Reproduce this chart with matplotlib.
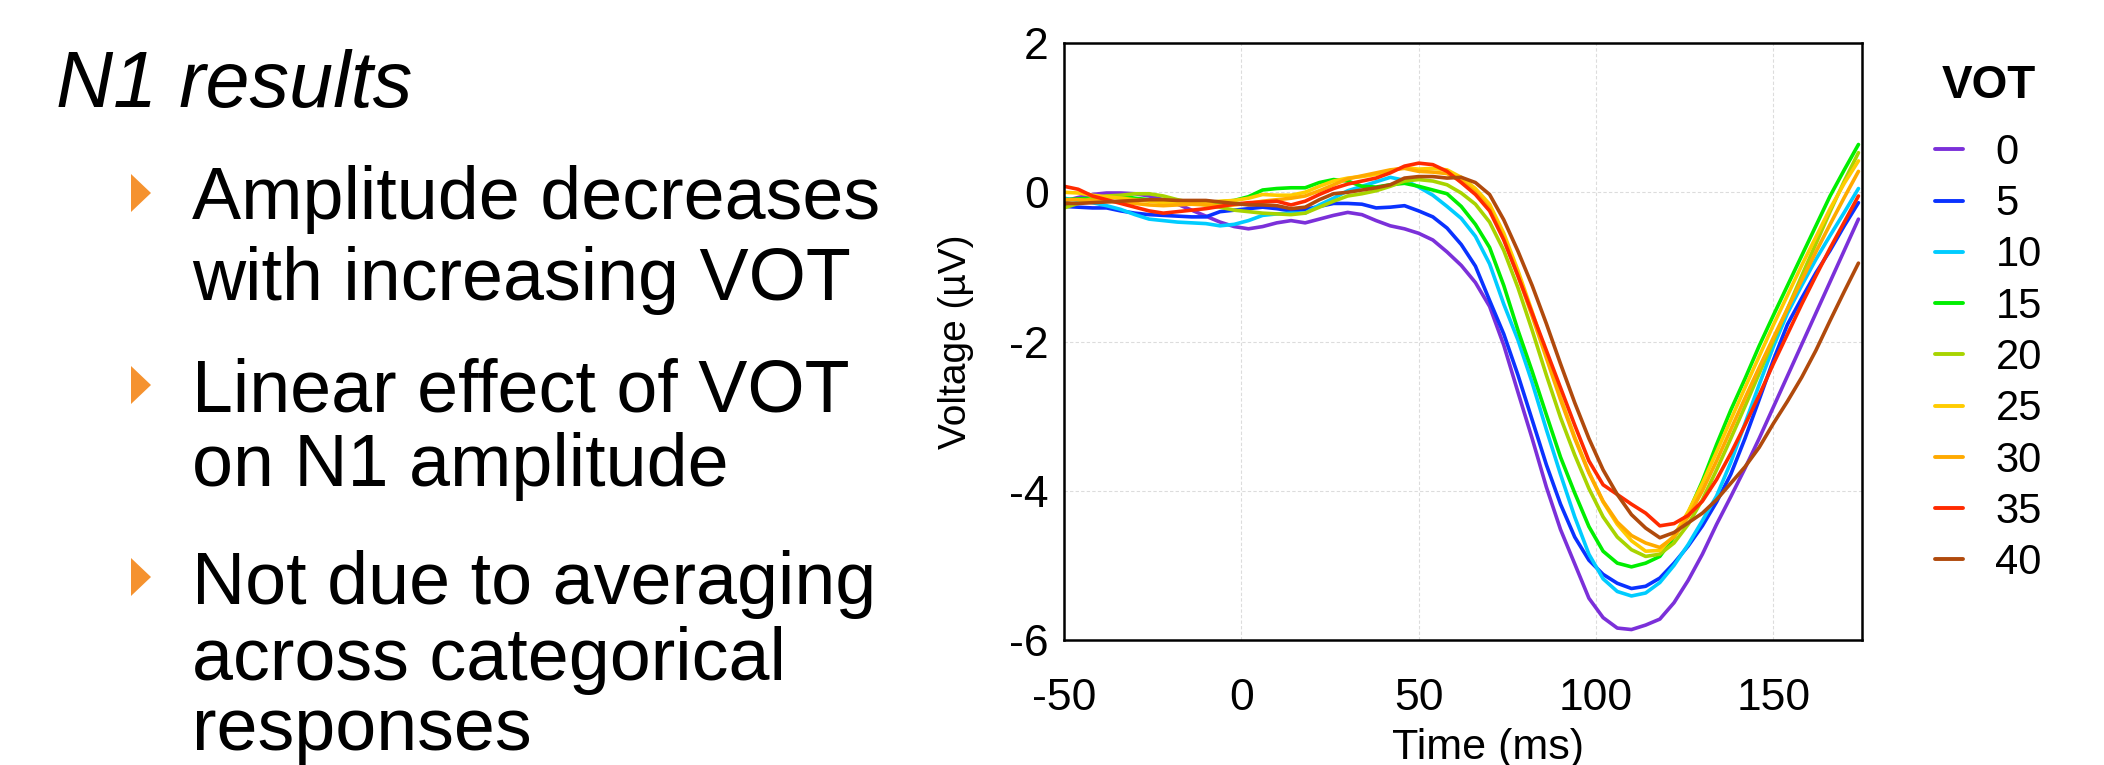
import numpy as np
import matplotlib
matplotlib.use("Agg")
import matplotlib.pyplot as plt
from matplotlib.patches import Polygon

plt.rcParams['font.family'] = ['Liberation Sans', 'DejaVu Sans']
plt.rcParams['axes.unicode_minus'] = False

# ---------------- data ----------------
time_ms = np.arange(-50, 175, 4)  # sample times (ms)

vot_labels = ["0", "5", "10", "15", "20", "25", "30", "35", "40"]
vot_colors = ["#7b30d9", "#0a32ff", "#00ccff", "#00ee00", "#a8d400",
              "#ffcc00", "#ffaa00", "#ff2a00", "#b04a0c"]

vot_0 = [-0.12, -0.07, -0.03, -0.01, -0.01, -0.02, -0.05, -0.10, -0.16, -0.24,
         -0.32, -0.40, -0.46, -0.49, -0.46, -0.41, -0.38, -0.41, -0.36, -0.31,
         -0.27, -0.30, -0.38, -0.45, -0.49, -0.55, -0.64, -0.80, -0.98, -1.21,
         -1.53, -2.05, -2.68, -3.30, -3.95, -4.52, -4.98, -5.44, -5.70, -5.84,
         -5.86, -5.80, -5.72, -5.50, -5.20, -4.85, -4.45, -4.08, -3.70, -3.30,
         -2.88, -2.46, -2.04, -1.62, -1.20, -0.78, -0.36]
vot_5 = [-0.19, -0.20, -0.21, -0.21, -0.25, -0.28, -0.30, -0.31, -0.32, -0.33,
         -0.33, -0.26, -0.24, -0.22, -0.20, -0.22, -0.25, -0.23, -0.19, -0.15,
         -0.15, -0.16, -0.21, -0.20, -0.18, -0.25, -0.33, -0.48, -0.70, -0.99,
         -1.45, -1.90, -2.45, -3.05, -3.65, -4.18, -4.62, -4.93, -5.12, -5.24,
         -5.31, -5.28, -5.17, -4.97, -4.74, -4.47, -4.15, -3.78, -3.30, -2.78,
         -2.25, -1.77, -1.42, -1.08, -0.78, -0.45, -0.14]
vot_10 = [-0.08, -0.11, -0.14, -0.18, -0.23, -0.30, -0.36, -0.38, -0.40, -0.41,
          -0.42, -0.45, -0.43, -0.38, -0.31, -0.29, -0.28, -0.28, -0.17, -0.08,
          0.02, 0.08, 0.14, 0.20, 0.16, 0.07, -0.04, -0.19, -0.35, -0.59,
          -0.96, -1.50, -1.98, -2.55, -3.18, -3.78, -4.35, -4.85, -5.18, -5.35,
          -5.41, -5.37, -5.23, -5.00, -4.72, -4.40, -4.07, -3.62, -3.10, -2.58,
          -2.07, -1.62, -1.25, -0.90, -0.58, -0.27, 0.05]
vot_15 = [-0.10, -0.09, -0.08, -0.06, -0.05, -0.08, -0.10, -0.12, -0.13, -0.14,
          -0.14, -0.13, -0.11, -0.06, 0.03, 0.05, 0.06, 0.06, 0.13, 0.17,
          0.15, 0.08, 0.07, 0.10, 0.12, 0.08, 0.03, -0.02, -0.19, -0.43,
          -0.74, -1.25, -1.85, -2.40, -2.98, -3.55, -4.03, -4.48, -4.81, -4.97,
          -5.02, -4.97, -4.88, -4.62, -4.30, -3.87, -3.38, -2.92, -2.50, -2.06,
          -1.65, -1.25, -0.85, -0.45, -0.05, 0.30, 0.64]
vot_20 = [-0.21, -0.15, -0.08, -0.05, -0.04, -0.02, -0.02, -0.05, -0.10, -0.14,
          -0.17, -0.20, -0.24, -0.26, -0.28, -0.29, -0.30, -0.28, -0.20, -0.12,
          -0.05, -0.02, 0.02, 0.08, 0.15, 0.17, 0.15, 0.10, -0.01, -0.16,
          -0.40, -0.78, -1.28, -1.85, -2.45, -3.02, -3.52, -3.97, -4.35, -4.62,
          -4.79, -4.88, -4.85, -4.70, -4.45, -4.12, -3.72, -3.30, -2.87, -2.43,
          -1.99, -1.56, -1.12, -0.69, -0.26, 0.15, 0.53]
vot_25 = [0.00, -0.01, -0.04, -0.06, -0.08, -0.10, -0.12, -0.14, -0.15, -0.15,
          -0.14, -0.12, -0.11, -0.08, -0.03, -0.04, -0.04, 0.00, 0.08, 0.15,
          0.19, 0.21, 0.24, 0.29, 0.33, 0.31, 0.32, 0.30, 0.20, 0.05,
          -0.16, -0.55, -1.05, -1.60, -2.18, -2.75, -3.28, -3.75, -4.15, -4.45,
          -4.67, -4.81, -4.80, -4.60, -4.28, -3.90, -3.48, -3.05, -2.62, -2.20,
          -1.78, -1.38, -0.98, -0.60, -0.22, 0.12, 0.42]
vot_30 = [-0.10, -0.10, -0.11, -0.12, -0.13, -0.15, -0.17, -0.18, -0.17, -0.16,
          -0.17, -0.18, -0.17, -0.15, -0.12, -0.10, -0.08, -0.05, 0.02, 0.10,
          0.18, 0.22, 0.26, 0.30, 0.32, 0.28, 0.27, 0.25, 0.15, 0.00,
          -0.22, -0.62, -1.12, -1.66, -2.22, -2.78, -3.30, -3.76, -4.14, -4.42,
          -4.60, -4.70, -4.76, -4.62, -4.35, -4.00, -3.60, -3.18, -2.76, -2.35,
          -1.95, -1.56, -1.18, -0.80, -0.43, -0.07, 0.28]
vot_35 = [0.08, 0.04, -0.05, -0.10, -0.15, -0.20, -0.25, -0.28, -0.26, -0.24,
          -0.22, -0.19, -0.16, -0.14, -0.13, -0.12, -0.17, -0.12, -0.03, 0.05,
          0.11, 0.15, 0.19, 0.26, 0.35, 0.39, 0.37, 0.28, 0.13, -0.03,
          -0.25, -0.64, -1.12, -1.62, -2.12, -2.62, -3.12, -3.60, -3.92, -4.05,
          -4.18, -4.30, -4.47, -4.44, -4.33, -4.14, -3.85, -3.50, -3.12, -2.72,
          -2.30, -1.90, -1.50, -1.12, -0.75, -0.40, -0.05]
vot_40 = [-0.15, -0.15, -0.14, -0.13, -0.12, -0.11, -0.10, -0.10, -0.11, -0.11,
          -0.11, -0.13, -0.15, -0.17, -0.17, -0.18, -0.22, -0.20, -0.10, -0.02,
          0.00, 0.03, 0.06, 0.10, 0.19, 0.21, 0.21, 0.19, 0.20, 0.13,
          -0.03, -0.37, -0.79, -1.25, -1.76, -2.30, -2.82, -3.30, -3.72, -4.05,
          -4.32, -4.50, -4.63, -4.56, -4.43, -4.30, -4.12, -3.90, -3.68, -3.42,
          -3.10, -2.80, -2.48, -2.12, -1.72, -1.33, -0.95]

series = [vot_0, vot_5, vot_10, vot_15, vot_20, vot_25, vot_30, vot_35, vot_40]

x_ticks = [-50, 0, 50, 100, 150]
y_ticks = [-6, -4, -2, 0, 2]

title_text = "N1 results"
bullet_lines = [["Amplitude decreases", "with increasing VOT"],
                ["Linear effect of VOT", "on N1 amplitude"],
                ["Not due to averaging", "across categorical", "responses"]]

# ---------------- figure ----------------
W, H = 2104, 765
fig = plt.figure(figsize=(W / 100, H / 100), dpi=100)
fig.patch.set_facecolor("white")

ax = fig.add_axes([1064 / W, 125 / H, 798 / W, 597 / H])
for vals, lab, col in zip(series, vot_labels, vot_colors):
    ax.plot(time_ms, vals, color=col, lw=2.6, label=lab,
            solid_joinstyle="round", solid_capstyle="round")

ax.set_xlim(-50, 175)
ax.set_ylim(-6, 2)
ax.set_xticks(x_ticks)
ax.set_yticks(y_ticks)
ax.grid(True, color="#dcdcdc", linestyle=(0, (3, 2)), linewidth=0.8)
ax.set_axisbelow(True)
for sp in ax.spines.values():
    sp.set_linewidth(1.8)
    sp.set_color("black")
ax.tick_params(axis="both", length=0, labelsize=32)
ax.tick_params(axis="x", pad=27)
ax.tick_params(axis="y", pad=11)

ax.set_xlabel("Time (ms)", fontsize=31)
ax.xaxis.set_label_coords(0.531, -0.147)
ax.set_ylabel("Voltage (\u00b5V)", fontsize=28)
ax.yaxis.set_label_coords(-0.113, 0.5)

leg = ax.legend(title="VOT", loc="upper left", bbox_to_anchor=(1935 / W, 1 - 64 / H),
                bbox_transform=fig.transFigure, frameon=False, fontsize=30,
                handlelength=0.68, handletextpad=0.77, labelspacing=0.27,
                borderaxespad=0, borderpad=0)
leg.get_title().set_fontsize(33)
leg.get_title().set_fontweight("bold")
leg._legend_box.sep = 18
for h in leg.get_lines():
    h.set_linewidth(2.8)

# ---------------- left text ----------------
fig.text(56 / W, 1 - 107 / H, title_text, fontsize=57, style="italic",
         va="baseline", ha="left")

baselines = [[219, 300], [411, 486], [604, 680, 750]]
tri_centers = [193, 385, 577]
for lines, bls, tc in zip(bullet_lines, baselines, tri_centers):
    for txt, bl in zip(lines, bls):
        fig.text(192 / W, 1 - bl / H, txt, fontsize=53, va="baseline", ha="left")
    tri = Polygon([[131 / W, 1 - (tc - 19) / H], [131 / W, 1 - (tc + 19) / H],
                   [151 / W, 1 - tc / H]], closed=True,
                  transform=fig.transFigure, facecolor="#f5922f", edgecolor="none")
    fig.add_artist(tri)

fig.savefig("out.png", dpi=100, facecolor="white")
